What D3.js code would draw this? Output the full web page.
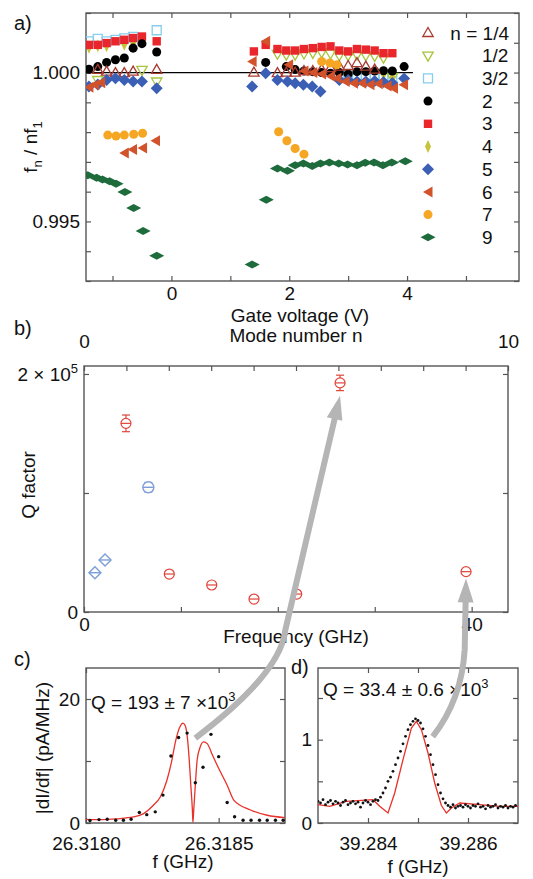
<!DOCTYPE html>
<html>
<head>
<meta charset="utf-8">
<script src="https://d3js.org/d3.v7.min.js"></script>
<style>
  body { margin: 0; background: #fff; }
  svg text { font-family: "Liberation Sans", Arial, sans-serif; font-size: 19px; fill: #111; }
  .axis path { display: none; }
  .axis line { stroke: #555; stroke-width: 1.2px; }
</style>
</head>
<body>
<script>
// ---------- panel a: f_n / n f_1 vs gate voltage ----------
var aN14 = [[-1.25,1.00009],[-1.10,1.00003],[-0.95,0.99998],[-0.80,0.99998],[-0.65,1.00003],[-0.25,1.00009],
            [1.40,1.00000],[1.80,0.99998],[1.95,1.00000],[2.10,1.00000],[2.25,1.00005],[2.40,1.00005],[2.55,1.00010],
            [2.70,1.00015],[2.85,1.00020],[3.00,1.00022],[3.15,1.00032],[3.30,1.00020],[3.45,1.00010]];
var aN12 = [[-1.25,0.99975],[-0.50,1.00009],[-0.25,0.99970],
            [1.80,1.00063],[1.95,1.00060],[2.10,1.00060],[2.25,1.00064],[2.40,1.00066],[2.55,1.00068],[2.70,1.00064],
            [2.85,1.00058],[3.00,1.00058],[3.15,1.00060],[3.30,1.00058],[3.45,1.00056],[3.60,1.00050],[3.75,0.99985]];
var aN32 = [[-1.40,1.00105],[-1.25,1.00113],[-1.10,1.00105],[-0.95,1.00110],[-0.80,1.00115],[-0.65,1.00120],[-0.25,1.00142],
            [2.85,0.99990],[3.00,0.99985],[3.15,0.99990],[3.30,0.99990],[3.45,0.99985],[3.60,0.99985],[3.75,0.99980]];
var aN2 = [[-1.40,1.00011],[-1.25,1.00020],[-1.10,1.00034],[-0.95,1.00043],[-0.80,1.00049],[-0.65,1.00082],[-0.50,1.00097],[-0.25,1.00069],
           [1.60,1.00034],[1.95,1.00020],[2.10,1.00010],[2.25,1.00005],[2.40,1.00003],[2.55,1.00000],[2.70,0.99998],[2.85,1.00000],
           [3.00,0.99995],[3.15,1.00003],[3.30,1.00003],[3.45,1.00005],[3.60,1.00006],[3.75,1.00005],[3.95,1.00020]];
var aN3 = [[-1.40,1.00093],[-1.25,1.00093],[-1.10,1.00099],[-0.95,1.00105],[-0.80,1.00110],[-0.65,1.00116],[-0.50,1.00121],[-0.25,1.00105],
           [1.40,1.00071],[1.60,1.00093],[1.80,1.00079],[1.95,1.00074],[2.10,1.00074],[2.25,1.00079],[2.40,1.00082],[2.55,1.00086],
           [2.70,1.00088],[2.85,1.00074],[3.00,1.00071],[3.15,1.00079],[3.30,1.00077],[3.45,1.00074],[3.60,1.00065],[3.75,1.00065]];
var aN4 = [[-1.40,1.00085],[-1.25,1.00090],[-1.10,1.00090],[-0.80,1.00095],[-0.65,1.00100],
           [2.85,0.99985],[3.00,0.99990],[3.60,0.99995],[3.75,0.99985]];
var aN5 = [[-1.40,0.99953],[-1.25,0.99960],[-1.10,0.99975],[-0.95,0.99981],[-0.80,0.99975],[-0.65,0.99970],[-0.50,0.99970],[-0.25,0.99947],
           [1.37,0.99953],[1.60,0.99998],[1.80,0.99975],[1.97,0.99970],[2.10,0.99964],[2.24,0.99959],[2.39,0.99953],[2.53,0.99936],
           [2.85,0.99975],[3.00,0.99975],[3.15,0.99970],[3.30,0.99970],[3.45,0.99972],[3.60,0.99968],[3.75,0.99965],[3.95,0.99980]];
var aN6 = [[-1.40,0.99951],[-1.30,0.99959],[-1.20,0.99966],[-0.80,0.99730],[-0.66,0.99742],[-0.49,0.99747],[-0.27,0.99771],
           [1.37,1.00037],[1.60,1.00105],[1.99,1.00026],[2.25,1.00005],[2.40,1.00000],[2.55,0.99995],[2.70,0.99988],
           [2.81,0.99981],[2.95,0.99970],[3.09,0.99964],[3.23,0.99964],[3.37,0.99959],[3.51,0.99962],[3.66,0.99955],[3.77,0.99947],[3.94,0.99959]];
var aN7 = [[-1.08,0.99790],[-0.94,0.99787],[-0.80,0.99790],[-0.64,0.99793],[-0.49,0.99796],
           [1.82,0.99801],[1.96,0.99771],[2.10,0.99745],[2.25,0.99726],[2.55,1.00037],[2.69,1.00032],[2.81,1.00026]];
var aN9 = [[-1.42,0.99655],[-1.27,0.99647],[-1.17,0.99641],[-1.05,0.99635],[-0.94,0.99627],[-0.79,0.99599],[-0.64,0.99545],[-0.48,0.99468],[-0.25,0.99385],
           [1.37,0.99355],[1.61,0.99573],[1.80,0.99678],[1.97,0.99670],[2.10,0.99689],[2.24,0.99695],[2.39,0.99686],[2.53,0.99695],
           [2.68,0.99698],[2.84,0.99695],[2.99,0.99691],[3.15,0.99689],[3.29,0.99697],[3.44,0.99698],[3.59,0.99689],[3.74,0.99698],[3.97,0.99702]];
var aSeriesData = [aN14, aN12, aN32, aN2, aN3, aN4, aN5, aN6, aN7, aN9];
var legendLabels = ["n = 1/4", "1/2", "3/2", "2", "3", "4", "5", "6", "7", "9"];
var aRefLine = [[-1.45, 1.0], [4.1, 1.0]];
var aXTicks = [-1, 0, 1, 2, 3, 4, 5];
var aXLabels = [0, 2, 4];
var aYTicks = [0.993, 0.994, 0.995, 0.996, 0.997, 0.998, 0.999, 1.000, 1.001, 1.002];
var aYLabels = [0.995, 1.000];

// ---------- panel b: Q factor vs frequency ----------
var bRedFreq = [4.33, 8.80, 13.18, 17.54, 21.95, 26.42, 39.42];
var bRedQ    = [158500, 31900, 22700, 10900, 15100, 192500, 33900];
var bRedErr  = [7000, 1800, 1500, 1500, 1800, 6500, 1500];
var bBlueFreq = [1.13, 2.17, 6.64];
var bBlueQ    = [33000, 43700, 104800];
var bBlueErr  = [1500, 1500, 4000];
var bFreqTicks = [0, 10, 20, 30, 40];
var bFreqLabels = [0, 40];
var bModeTicks = [0, 1, 2, 3, 4, 5, 6, 7, 8, 9, 10];
var bModeLabels = [0, 10];
var bQTicks = [0, 100000, 200000];

// ---------- panel c: resonance at 26.318 GHz ----------
var cDotFreq = [26.318015, 26.318049, 26.318080, 26.318112, 26.318141, 26.318170, 26.318201, 26.318229, 26.318261,
                26.318290, 26.318320, 26.318349, 26.318381, 26.318412, 26.318441, 26.318471, 26.318500, 26.318532,
                26.318560, 26.318592, 26.318622, 26.318654, 26.318683, 26.318714, 26.318743];
var cDotVal  = [0.4, 0.55, 0.6, 0.45, 0.45, 0.6, 1.7, 1.35, 1.8, 4.5, 10.8, 13.8, 14.5, 6.5, 9.0, 14.3, 10.7, 3.3,
                1.0, 0.45, 0.45, 0.45, 0.45, 0.45, 0.45];
var cFitFreq = [26.318000, 26.318053, 26.318116, 26.318179, 26.318217, 26.318254, 26.318280, 26.318305, 26.318324,
                26.318336, 26.318355, 26.318365, 26.318374, 26.318383, 26.318389, 26.318395, 26.318401, 26.318403,
                26.318406, 26.318412, 26.318419, 26.318429, 26.318443, 26.318457, 26.318476, 26.318499, 26.318532,
                26.318557, 26.318620, 26.318683, 26.318752];
var cFitVal  = [0.6, 0.55, 0.68, 0.97, 1.52, 2.87, 4.2, 6.9, 10.2, 12.9, 15.6, 16.1, 15.7, 13.4, 10.2, 6.1, 2.05, 0.1,
                2.05, 6.1, 10.2, 12.1, 13.1, 12.8, 11.0, 8.9, 6.1, 3.7, 2.1, 1.25, 0.85];
var cXTicks = [26.3180, 26.3185];
var cYTicks = [0, 10, 20];
var cYLabels = [0, 20];

// ---------- panel d: resonance at 39.285 GHz ----------
var dDotFreq = [39.28300, 39.28305, 39.28310, 39.28315, 39.28320, 39.28325, 39.28330, 39.28335, 39.28340, 39.28345,
                39.28350, 39.28355, 39.28360, 39.28365, 39.28370, 39.28375, 39.28380, 39.28385, 39.28390, 39.28395,
                39.28400, 39.28405, 39.28410, 39.28415, 39.28420, 39.28425, 39.28430, 39.28435, 39.28440, 39.28445,
                39.28450, 39.28455, 39.28460, 39.28465, 39.28470, 39.28475, 39.28480, 39.28485, 39.28490, 39.28495,
                39.28500, 39.28505, 39.28510, 39.28515, 39.28520, 39.28525, 39.28530, 39.28535, 39.28540, 39.28545,
                39.28550, 39.28555, 39.28560, 39.28565, 39.28570, 39.28575, 39.28580, 39.28585, 39.28590, 39.28595,
                39.28600, 39.28605, 39.28610, 39.28615, 39.28620, 39.28625, 39.28630, 39.28635, 39.28640, 39.28645,
                39.28650, 39.28655, 39.28660, 39.28665, 39.28670, 39.28675, 39.28680, 39.28685, 39.28690, 39.28695];
var dDotVal  = [0.26, 0.24, 0.28, 0.22, 0.25, 0.27, 0.23, 0.26, 0.24, 0.21, 0.25, 0.27, 0.22, 0.24, 0.26, 0.23, 0.25, 0.19, 0.24, 0.27,
                0.25, 0.22, 0.26, 0.28, 0.27, 0.31, 0.36, 0.42, 0.50, 0.55, 0.62, 0.70, 0.78, 0.86, 0.95, 1.04, 1.12, 1.18, 1.22, 1.25,
                1.23, 1.20, 1.13, 1.04, 0.93, 0.82, 0.70, 0.58, 0.46, 0.36, 0.29, 0.24, 0.21, 0.19, 0.22, 0.18, 0.20, 0.21, 0.19, 0.22,
                0.20, 0.18, 0.21, 0.20, 0.23, 0.19, 0.20, 0.17, 0.21, 0.19, 0.20, 0.22, 0.18, 0.20, 0.19, 0.21, 0.18, 0.20, 0.19, 0.21];
var dFitFreq = [39.283000, 39.283234, 39.283568, 39.284100, 39.284234, 39.284400, 39.284534, 39.284700, 39.284868, 39.284968,
                39.285068, 39.285200, 39.285334, 39.285468, 39.285568, 39.285668, 39.285834, 39.286234, 39.286634, 39.287000];
var dFitVal  = [0.22, 0.20, 0.26, 0.28, 0.20, 0.12, 0.36, 0.76, 1.14, 1.22, 1.12, 0.84, 0.48, 0.21, 0.12, 0.18, 0.24, 0.22, 0.20, 0.20];
var dXTicks = [39.284, 39.285, 39.286];
var dXLabels = [39.284, 39.286];
var dYTicks = [0, 0.5, 1, 1.5];
var dYLabels = [0, 1];

// ---------- drawing ----------
var W = 533, H = 879;
var svg = d3.select("body").append("svg").attr("width", W).attr("height", H);

function has(list, d) { return list.some(function (v) { return Math.abs(v - d) < 1e-9; }); }

function shape(pts) {
    return { draw: function (ctx) {
        ctx.moveTo(pts[0][0], pts[0][1]);
        for (var i = 1; i < pts.length; i++) ctx.lineTo(pts[i][0], pts[i][1]);
        ctx.closePath();
    } };
}

function frame(x, y, id) {
    var x0 = x.range()[0], x1 = x.range()[1], y0 = y.range()[1], y1 = y.range()[0];
    svg.append("clipPath").attr("id", id).append("rect")
        .attr("x", x0).attr("y", y0).attr("width", x1 - x0).attr("height", y1 - y0);
    svg.append("rect").attr("x", x0).attr("y", y0).attr("width", x1 - x0).attr("height", y1 - y0)
        .attr("fill", "none").attr("stroke", "#555").attr("stroke-width", 1.4);
}

function axes(x, y, o) {
    svg.append("g").attr("class", "axis").attr("transform", "translate(0," + y.range()[0] + ")")
        .call(d3.axisBottom(x).tickValues(o.xt).tickSize(-5).tickPadding(o.xpad).tickFormat(o.xf));
    svg.append("g").attr("class", "axis").attr("transform", "translate(0," + y.range()[1] + ")")
        .call(d3.axisTop(o.xtop || x).tickValues(o.xtopt || o.xt).tickSize(-5).tickPadding(o.xtoppad || 3).tickFormat(o.xtopf || ""));
    var left = svg.append("g").attr("class", "axis").attr("transform", "translate(" + x.range()[0] + ",0)")
        .call(d3.axisLeft(y).tickValues(o.yt).tickSize(-5).tickPadding(6).tickFormat(o.yf));
    svg.append("g").attr("class", "axis").attr("transform", "translate(" + x.range()[1] + ",0)")
        .call(d3.axisRight(y).tickValues(o.yt).tickSize(-5).tickFormat(""));
    return left;
}

// panel a
var xa = d3.scaleLinear().domain([-1.45, 5.9]).range([86, 519]);
var ya = d3.scaleLinear().domain([0.993, 1.002]).range([281, 13]);
frame(xa, ya, "clipA");
axes(xa, ya, {
    xt: aXTicks, xpad: 6, xf: function (d) { return aXLabels.indexOf(d) >= 0 ? d : ""; },
    yt: aYTicks, yf: function (d) { return has(aYLabels, d) ? d3.format(".3f")(d) : ""; }
});
svg.append("path").datum(aRefLine)
    .attr("d", d3.line().x(function (d) { return xa(d[0]); }).y(function (d) { return ya(d[1]); }))
    .attr("stroke", "#000").attr("stroke-width", 1.2).attr("fill", "none");

var aStyle = [
    { type: shape([[0, -5.5], [5.2, 3.5], [-5.2, 3.5]]), fill: "none", stroke: "#a83a30" },
    { type: shape([[0, 5.5], [5.2, -3.5], [-5.2, -3.5]]), fill: "none", stroke: "#a8c43c" },
    { type: shape([[-4.5, -4.5], [4.5, -4.5], [4.5, 4.5], [-4.5, 4.5]]), fill: "none", stroke: "#86cdee" },
    { type: d3.symbolCircle, size: 64, fill: "#000" },
    { type: shape([[-4.2, -4.2], [4.2, -4.2], [4.2, 4.2], [-4.2, 4.2]]), fill: "#e8262b" },
    { type: shape([[0, -6.5], [3, 0], [0, 6.5], [-3, 0]]), fill: "#c6c43a" },
    { type: shape([[0, -6], [6, 0], [0, 6], [-6, 0]]), fill: "#3b5fb5" },
    { type: shape([[-5, 0], [4.5, -5.5], [4.5, 5.5]]), fill: "#d2522c" },
    { type: d3.symbolCircle, size: 64, fill: "#f5a623" },
    { type: shape([[-7.5, 0], [0, -4], [7.5, 0], [0, 4]]), fill: "#1e6b3c" }
];
function sym(st) { return d3.symbol().type(st.type).size(st.size || 64)(); }

var gA = svg.append("g").attr("clip-path", "url(#clipA)");
[2, 1, 5, 4, 3, 0, 6, 7, 8, 9].forEach(function (k) {
    var st = aStyle[k];
    gA.selectAll(null).data(aSeriesData[k]).enter().append("path")
        .attr("d", sym(st))
        .attr("transform", function (d) { return "translate(" + xa(d[0]) + "," + ya(d[1]) + ")"; })
        .attr("fill", st.fill).attr("stroke", st.stroke || "none").attr("stroke-width", 1.3);
});

// legend
var leg = svg.append("g");
legendLabels.forEach(function (lab, i) {
    var st = aStyle[i], yy = 33 + i * 22.7;
    leg.append("path").attr("d", sym(st)).attr("transform", "translate(428," + yy + ")")
        .attr("fill", st.fill).attr("stroke", st.stroke || "none").attr("stroke-width", 1.3);
    leg.append("text").attr("x", i === 0 ? 509 : 482).attr("y", yy).attr("dy", "0.35em")
        .attr("text-anchor", i === 0 ? "end" : "start").text(lab);
});

svg.append("text").attr("x", 14).attr("y", 30).style("font-size", "20px").text("a)");
svg.append("text").attr("x", 300).attr("y", 322).attr("text-anchor", "middle").text("Gate voltage (V)");
var ta = svg.append("text").attr("transform", "translate(37,147) rotate(-90)").attr("text-anchor", "middle");
ta.append("tspan").text("f");
ta.append("tspan").attr("dy", 5).style("font-size", "13px").text("n");
ta.append("tspan").attr("dy", -5).text(" / nf");
ta.append("tspan").attr("dy", 5).style("font-size", "13px").text("1");

// panel b
var xb = d3.scaleLinear().domain([0, 43.75]).range([84, 508]);
var mb = d3.scaleLinear().domain([0, 10]).range([84, 508]);
var yb = d3.scaleLinear().domain([0, 206700]).range([612, 366]);
frame(xb, yb, "clipB");
var leftB = axes(xb, yb, {
    xt: bFreqTicks, xpad: 6, xf: function (d) { return bFreqLabels.indexOf(d) >= 0 ? d : ""; },
    xtop: mb, xtopt: bModeTicks, xtoppad: 18, xtopf: function (d) { return bModeLabels.indexOf(d) >= 0 ? d : ""; },
    yt: bQTicks, yf: function (d) { return d === 0 ? "0" : d === 200000 ? "2 \u00d7 10" : ""; }
});
leftB.selectAll(".tick text").filter(function (d) { return d === 200000; })
    .append("tspan").attr("dy", "-0.55em").style("font-size", "13px").text("5");

function errBar(g, cx, q, e) {
    g.append("line").attr("x1", cx).attr("x2", cx).attr("y1", yb(q - e)).attr("y2", yb(q + e));
    g.append("line").attr("x1", cx - 4).attr("x2", cx + 4).attr("y1", yb(q - e)).attr("y2", yb(q - e));
    g.append("line").attr("x1", cx - 4).attr("x2", cx + 4).attr("y1", yb(q + e)).attr("y2", yb(q + e));
}
var gB = svg.append("g").attr("fill", "none");
bRedFreq.forEach(function (f, i) {
    var g = gB.append("g").attr("stroke", "#e0443a").attr("stroke-width", 1.2);
    var cx = xb(f), cy = yb(bRedQ[i]);
    errBar(g, cx, bRedQ[i], bRedErr[i]);
    g.append("circle").attr("cx", cx).attr("cy", cy).attr("r", 5).attr("fill", "#fff");
    g.append("line").attr("x1", cx - 5).attr("x2", cx + 5).attr("y1", cy).attr("y2", cy);
});
bBlueFreq.forEach(function (f, i) {
    var g = gB.append("g").attr("stroke", "#7d9ed8").attr("stroke-width", 1.4);
    var cx = xb(f), cy = yb(bBlueQ[i]);
    errBar(g, cx, bBlueQ[i], bBlueErr[i]);
    if (i < 2) {
        g.append("path").attr("d", d3.symbol().type(shape([[0, -6], [6, 0], [0, 6], [-6, 0]]))())
            .attr("transform", "translate(" + cx + "," + cy + ")").attr("fill", "#fff");
        g.append("line").attr("x1", cx - 6).attr("x2", cx + 6).attr("y1", cy).attr("y2", cy);
    } else {
        g.append("circle").attr("cx", cx).attr("cy", cy).attr("r", 5.5).attr("fill", "#fff");
        g.append("line").attr("x1", cx - 5.5).attr("x2", cx + 5.5).attr("y1", cy).attr("y2", cy);
    }
});
svg.append("text").attr("x", 14).attr("y", 335).style("font-size", "20px").text("b)");
svg.append("text").attr("x", 296).attr("y", 342).attr("text-anchor", "middle").text("Mode number n");
svg.append("text").attr("x", 296).attr("y", 643).attr("text-anchor", "middle").text("Frequency (GHz)");
svg.append("text").attr("transform", "translate(35,485) rotate(-90)").attr("text-anchor", "middle").text("Q factor");

// panel c
var xc = d3.scaleLinear().domain([26.3180, 26.31875]).range([86, 285]);
var yc = d3.scaleLinear().domain([0, 25]).range([823, 668]);
frame(xc, yc, "clipC");
axes(xc, yc, {
    xt: cXTicks, xpad: 14, xf: d3.format(".4f"),
    yt: cYTicks, yf: function (d) { return cYLabels.indexOf(d) >= 0 ? d : ""; }
});
var gC = svg.append("g").attr("clip-path", "url(#clipC)");
gC.append("path").datum(d3.range(cFitFreq.length))
    .attr("d", d3.line().x(function (i) { return xc(cFitFreq[i]); }).y(function (i) { return yc(cFitVal[i]); }).curve(d3.curveMonotoneX))
    .attr("fill", "none").attr("stroke", "#e8312a").attr("stroke-width", 1.3);
gC.selectAll(null).data(d3.range(cDotFreq.length)).enter().append("circle")
    .attr("cx", function (i) { return xc(cDotFreq[i]); }).attr("cy", function (i) { return yc(cDotVal[i]); })
    .attr("r", 1.7).attr("fill", "#111");
svg.append("text").attr("x", 14).attr("y", 666).style("font-size", "20px").text("c)");
var qc = svg.append("text").attr("x", 91).attr("y", 709);
qc.append("tspan").text("Q = 193 \u00b1 7 \u00d710");
qc.append("tspan").attr("dy", -8).style("font-size", "13px").text("3");
svg.append("text").attr("x", 183).attr("y", 868).attr("text-anchor", "middle").text("f (GHz)");
svg.append("text").attr("transform", "translate(49,748) rotate(-90)").attr("text-anchor", "middle")
    .text("|dI/df|  (pA/MHz)");

// panel d
var xd = d3.scaleLinear().domain([39.283, 39.287]).range([318, 518]);
var yd = d3.scaleLinear().domain([0, 1.86]).range([823, 668]);
frame(xd, yd, "clipD");
axes(xd, yd, {
    xt: dXTicks, xpad: 14, xf: function (d) { return has(dXLabels, d) ? d3.format(".3f")(d) : ""; },
    yt: dYTicks, yf: function (d) { return dYLabels.indexOf(d) >= 0 ? d : ""; }
});
var gD = svg.append("g").attr("clip-path", "url(#clipD)");
gD.append("path").datum(d3.range(dFitFreq.length))
    .attr("d", d3.line().x(function (i) { return xd(dFitFreq[i]); }).y(function (i) { return yd(dFitVal[i]); }))
    .attr("fill", "none").attr("stroke", "#e8312a").attr("stroke-width", 1.3);
gD.selectAll(null).data(d3.range(dDotFreq.length)).enter().append("circle")
    .attr("cx", function (i) { return xd(dDotFreq[i]); }).attr("cy", function (i) { return yd(dDotVal[i]); })
    .attr("r", 1.4).attr("fill", "#111");
svg.append("text").attr("x", 291).attr("y", 674).style("font-size", "20px").text("d)");
var qd = svg.append("text").attr("x", 323).attr("y", 696);
qd.append("tspan").text("Q = 33.4 \u00b1 0.6 \u00d710");
qd.append("tspan").attr("dy", -8).style("font-size", "13px").text("3");
svg.append("text").attr("x", 418).attr("y", 873).attr("text-anchor", "middle").text("f (GHz)");

// grey arrows linking the resonances to their points in b
function arrow(s, c, b, t) {
    var dx = t[0] - b[0], dy = t[1] - b[1], len = Math.sqrt(dx * dx + dy * dy);
    var ux = dx / len, uy = dy / len, L = 24, hw = 8;
    var bx = t[0] - ux * L, by = t[1] - uy * L;
    svg.append("path")
        .attr("d", "M" + s[0] + "," + s[1] + "Q" + c[0] + "," + c[1] + " " + b[0] + "," + b[1] + "L" + (bx + ux * 2) + "," + (by + uy * 2))
        .attr("fill", "none").attr("stroke", "#b5b5b5").attr("stroke-width", 6);
    svg.append("path")
        .attr("d", "M" + t[0] + "," + t[1] + "L" + (bx - uy * hw) + "," + (by + ux * hw) + "L" + (bx + uy * hw) + "," + (by - ux * hw) + "Z")
        .attr("fill", "#b5b5b5");
}
var s1 = [xc(26.318412), yc(13.7)], t1 = [xb(bRedFreq[5]), yb(bRedQ[5] - bRedErr[5]) + 5];
arrow(s1, [s1[0] + 85, s1[1] - 64], [s1[0] + 90, s1[1] - 108], t1);
var s2 = [xd(39.285294), yd(1.036)], t2 = [xb(bRedFreq[6]), yb(bRedQ[6] - bRedErr[6]) + 5];
arrow(s2, [s2[0] + 29, s2[1] - 37], [s2[0] + 32, s2[1] - 87], t2);
</script>
</body>
</html>
